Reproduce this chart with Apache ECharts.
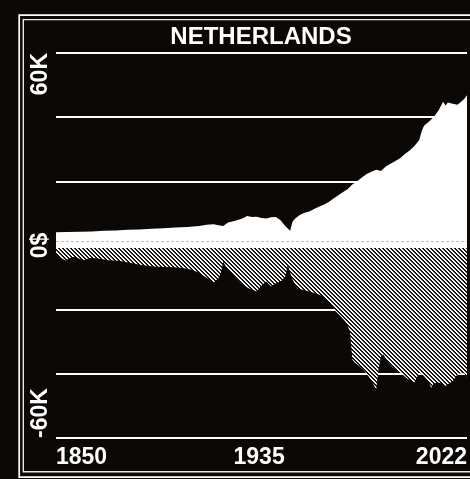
<!DOCTYPE html>
<html>
<head>
<meta charset="utf-8">
<script src="https://cdn.jsdelivr.net/npm/echarts@6/dist/echarts.min.js"></script>
<style>
html,body{margin:0;padding:0;background:#0b0806;}
#chart{width:470px;height:479px;}
</style>
</head>
<body>
<div id="chart"></div>
<script>
// ---- data ----
const titleText = 'NETHERLANDS';
const xTickYears = [1850, 1935, 2022];
const yTickLabels = { '-60000': '-60K', '0': '0$', '60000': '60K' };

const posYears = [1850,1855,1860,1865,1870,1875,1880,1885,1890,1895,1900,1905,1910,1913,1916,1918,1920,1922,1925,1928,1930,1932,1934,1936,1938,1940,1942,1944,1946,1948,1949,1950,1952,1954,1956,1958,1960,1962,1964,1966,1968,1970,1972,1974,1976,1978,1980,1982,1984,1986,1988,1990,1992,1994,1996,1998,2000,2002,2003,2004,2006,2008,2010,2012,2013,2014,2016,2018,2020,2021,2022];
const posValues = [4100,4200,4300,4400,4600,4700,4900,5000,5200,5400,5600,5800,6100,6500,6600,6300,6100,7200,7700,8400,9200,8900,9000,8600,8400,8800,8900,7900,6000,4600,7400,8300,9500,10200,10600,11400,12100,12700,13500,14600,15600,16600,17500,19000,20000,21200,22300,23000,23600,23200,24600,25500,26300,27200,28500,29600,31000,32900,35500,37300,38600,40000,42000,44800,43600,44600,44200,43900,45100,45800,46800];

const negYears = [1850,1852,1854,1856,1858,1860,1862,1864,1867,1870,1872,1875,1878,1882,1885,1888,1892,1896,1899,1903,1906,1909,1911,1914,1916,1918,1919,1920,1921,1923,1925,1928,1931,1934,1936,1938,1940,1942,1944,1946,1947,1948,1949,1951,1953,1956,1958,1960,1962,1964,1966,1967,1969,1971,1972,1973,1974,1975,1977,1979,1981,1983,1984,1985,1986,1987,1989,1991,1993,1995,1997,1999,2000,2002,2004,2006,2007,2008,2010,2012,2013,2015,2016,2018,2020,2021,2022];
const negValues = [-2400,-3800,-4700,-3800,-3500,-4200,-4500,-3900,-4000,-4400,-4600,-4700,-5000,-5500,-6000,-6300,-6600,-6700,-6800,-7000,-7400,-8200,-9100,-10500,-11500,-10200,-8500,-5000,-6500,-8100,-10000,-12200,-13500,-14300,-12500,-11200,-12800,-11800,-11200,-9700,-6000,-8500,-10700,-13300,-13800,-14300,-14800,-15300,-16000,-17400,-19000,-20500,-22000,-23600,-25000,-26700,-35500,-36500,-37600,-39000,-41000,-43500,-44800,-38600,-34500,-34000,-36500,-38100,-39000,-40200,-41500,-42200,-42700,-39600,-40700,-42500,-44300,-43000,-42700,-43200,-43800,-42800,-42200,-40200,-39600,-40000,-41200];

// ---- hatch pattern ----
const tile = document.createElement('canvas');
tile.width = 8; tile.height = 8;
const tctx = tile.getContext('2d');
const shades = ['#ffffff', '#f0f0f0', '#2a2a2a', '#0b0806'];
for (let y = 0; y < 8; y++) {
  for (let x = 0; x < 8; x++) {
    const k = ((x - y) % 4 + 4) % 4;
    tctx.fillStyle = shades[k];
    tctx.fillRect(x, y, 1, 1);
  }
}

const pos = posYears.map((y, i) => [y, posValues[i]]);
const neg = negYears.map((y, i) => [y, negValues[i]]);

const FONT = '"Liberation Sans", Arial, sans-serif';
const chart = echarts.init(document.getElementById('chart'), null, { renderer: 'canvas' });
chart.setOption({
  backgroundColor: '#0b0806',
  animation: false,
  grid: { left: 56, right: 3, top: 53, bottom: 41, containLabel: false },
  xAxis: {
    type: 'value', min: 1850, max: 2022,
    axisLine: { show: false }, axisTick: { show: false }, splitLine: { show: false },
    axisLabel: {
      customValues: xTickYears, color: '#fff', fontFamily: FONT, fontWeight: 'bold', fontSize: 23,
      margin: 8, alignMinLabel: 'left', alignMaxLabel: 'right',
      formatter: v => String(v)
    }
  },
  yAxis: {
    type: 'value', min: -60000, max: 60000, interval: 20000,
    axisLine: { show: false }, axisTick: { show: false },
    splitLine: { show: true, lineStyle: { color: '#ffffff', width: 2 } },
    axisLabel: {
      rotate: 90, color: '#fff', fontFamily: FONT, fontWeight: 'bold', fontSize: 23, margin: 4,
      alignMinLabel: 'left', alignMaxLabel: 'right',
      formatter: v => (yTickLabels[String(v)] || '')
    }
  },
  graphic: [
    { type: 'rect', z: 100, silent: true, shape: { x: 19.2, y: 15.2, width: 470, height: 462 },
      style: { fill: null, stroke: '#ffffff', lineWidth: 1.7 } },
    { type: 'rect', z: 100, silent: true, shape: { x: 23.3, y: 19.6, width: 460, height: 452.2 },
      style: { fill: null, stroke: '#e8e8e8', lineWidth: 1.4 } },
    { type: 'text', z: 100, x: 261, y: 37, silent: true,
      style: { text: titleText, fill: '#ffffff', font: 'bold 24px ' + FONT, align: 'center', verticalAlign: 'middle' } }
  ],
  series: [
    {
      type: 'line', data: pos, symbol: 'none', smooth: false, z: 3,
      lineStyle: { width: 0, opacity: 0 },
      areaStyle: { color: '#ffffff', opacity: 1 }
    },
    {
      type: 'line', data: neg, symbol: 'none', smooth: false, z: 4,
      lineStyle: { width: 0, opacity: 0 },
      areaStyle: { color: { image: tile, repeat: 'repeat' }, opacity: 1 },
      markLine: {
        silent: true, symbol: 'none', label: { show: false },
        data: [
          { yAxis: 0, lineStyle: { color: '#ffffff', width: 5, type: 'solid' } },
          { yAxis: 1300, lineStyle: { color: '#bdbdbd', width: 1, type: [3, 2] } }
        ]
      }
    }
  ]
});
</script>
</body>
</html>
